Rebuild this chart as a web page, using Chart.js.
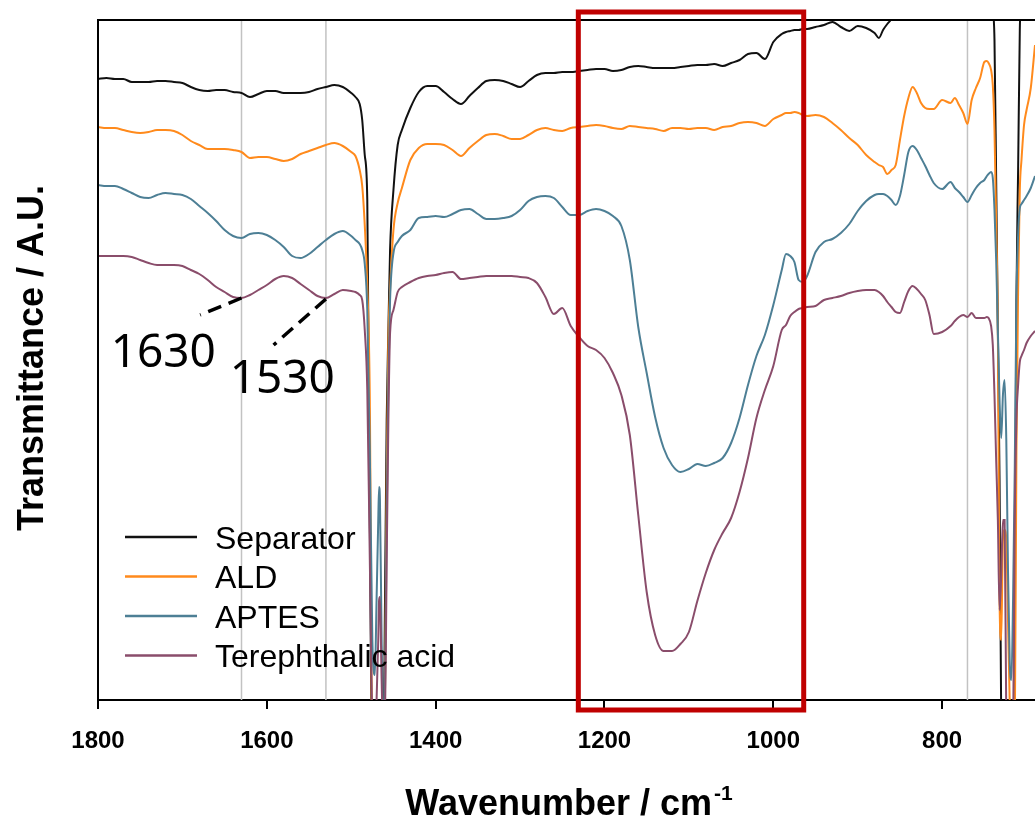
<!DOCTYPE html>
<html>
<head>
<meta charset="utf-8">
<script src="https://cdn.jsdelivr.net/npm/chart.js@4.4.1/dist/chart.umd.min.js"></script>
<style>
  html, body { margin: 0; padding: 0; background: #fff; }
  canvas { display: block; }
</style>
</head>
<body>
<canvas id="ftirChart" width="1035" height="826"></canvas>
<script>
// wavenumbers (cm-1), descending, denser around the sharp CH2 bands
const wavenumber = [
  1800, 1790, 1780, 1770, 1760, 1750, 1740, 1730, 1720, 1710,
  1700, 1690, 1680, 1670, 1660, 1650, 1640, 1630, 1620, 1610,
  1600, 1590, 1580, 1570, 1560, 1550, 1540, 1530, 1520, 1510, 1500,
  1495, 1490, 1487, 1484, 1481, 1478, 1475, 1472, 1470, 1468, 1467, 1466, 1464, 1462, 1460, 1458, 1456, 1454, 1450, 1445, 1440,
  1430, 1420, 1410, 1400, 1390, 1380, 1370, 1360, 1350, 1340, 1330, 1320, 1310, 1300, 1290, 1280, 1270, 1260, 1250,
  1240, 1230, 1220, 1210, 1200, 1190, 1180, 1170, 1160, 1150, 1140, 1130, 1120, 1110, 1100, 1090, 1080, 1070, 1060,
  1050, 1040, 1030, 1020, 1010,
  1000, 990, 985, 980, 975, 970, 965, 960, 950, 940, 930, 920, 910, 900, 890, 880, 875, 870, 865, 860, 855,
  850, 845, 840, 835, 830, 825, 820, 815, 810, 800, 790, 785, 780, 775, 770, 765, 760, 755,
  750, 747, 745, 742, 740, 738, 736, 734, 732, 730, 728, 726, 724, 722, 720, 718, 716, 714, 712, 710, 708, 706, 703, 700, 695, 690
];

// transmittance, arbitrary units (curves are offset, values outside 0..680 run off the plot)
const separator = [
  621, 622, 621, 621, 618, 618, 618, 619, 619, 618, 617, 613, 610, 609, 610, 610, 608, 607, 603, 606,
  609, 609, 607, 607, 607, 608, 611, 613, 615, 613, 607,
  603, 596, 580, 545, 500, 180, -60, -60, -60, -60, -60, -60, -60, -60, 100, 280, 370, 450, 510, 555, 570,
  592, 608, 614, 614, 608, 601, 596, 604, 612, 619, 620, 619, 616, 613, 619, 625, 627, 627, 628,
  628, 629, 630, 631, 631, 629, 630, 633, 634, 633, 632, 632, 632, 633, 634, 635, 635, 636, 634,
  637, 640, 646, 647, 641,
  658, 666, 668, 669, 670, 670, 671, 671, 673, 675, 678, 673, 669, 674, 672, 667, 662, 670, 676, 681, 690,
  710, 710, 710, 710, 710, 710, 710, 710, 710, 710, 710, 710, 710, 710, 710, 710, 710, 710,
  710, 710, 710, 705, 690, 660, 520, 370, 220, -20, -60, -60, -60, -60, -60, -60, -60, 100, 400, 530, 670, 705, 710, 710, 710, 710
];
const ald = [
  573, 572, 572, 570, 568, 567, 568, 570, 570, 569, 565, 559, 555, 551, 551, 551, 550, 548, 542, 543,
  543, 541, 539, 541, 546, 549, 552, 555, 557, 554, 548,
  544, 530, 514, 475, 415, 300, -60, -60, -60, -60, -60, -60, -60, -60, 10, 220, 360, 410, 470, 497, 512,
  540, 552, 556, 556, 555, 550, 544, 552, 559, 565, 566, 564, 561, 561, 565, 570, 572, 570, 569,
  572, 573, 574, 575, 574, 572, 571, 574, 573, 572, 571, 569, 572, 572, 571, 572, 572, 570, 573,
  574, 577, 578, 577, 574,
  581, 585, 587, 587, 588, 587, 585, 584, 585, 583, 577, 570, 562, 555, 545, 538, 535, 533, 526, 530, 535,
  560, 584, 602, 613, 607, 597, 592, 591, 591, 600, 597, 602, 595, 587, 576, 600, 612, 622,
  638, 639, 637, 630, 615, 570, 480, 370, 100, 60, 160, 170, 160, 80, 0, -60, -60, -40, 250, 410, 510, 540, 575, 590, 612, 655
];
const aptes = [
  515, 514, 514, 511, 507, 503, 502, 505, 507, 506, 505, 501, 494, 487, 479, 470, 464, 462, 466, 467,
  465, 460, 453, 444, 442, 446, 453, 460, 466, 469, 464,
  460, 456, 450, 436, 390, 250, 60, 25, 100, 180, 213, 200, 60, -20, 10, 180, 320, 400, 447, 458, 464,
  470, 482, 483, 484, 483, 486, 490, 491, 486, 481, 481, 482, 484, 490, 499, 503, 504, 502, 493,
  485, 485, 489, 491, 489, 484, 474, 440, 373, 327, 283, 252, 235, 228, 231, 236, 234, 237, 242,
  257, 282, 315, 344, 365,
  395, 430, 446, 444, 438, 420, 418, 424, 448, 458, 461, 467, 476, 489, 499, 505, 506, 506, 504, 500, 495,
  504, 525, 548, 554, 550, 542, 534, 525, 517, 511, 518, 512, 508, 503, 498, 505, 512, 517,
  520, 524, 526, 528, 522, 490, 440, 370, 300, 262, 305, 320, 260, 130, 40, 20, 100, 230, 400, 465, 492, 496, 500, 504, 512, 524
];
const terephthalic = [
  444, 444, 444, 444, 443, 440, 437, 435, 435, 435, 434, 430, 426, 420, 413, 408, 403, 402, 405, 410,
  415, 421, 424, 422, 416, 410, 404, 402, 406, 410, 409,
  408, 405, 400, 370, 310, 140, -20, -40, 0, 60, 100, 103, 20, -40, -20, 140, 280, 367, 390, 408, 413,
  418, 422, 424, 425, 427, 428, 421, 422, 423, 424, 424, 424, 424, 423, 422, 417, 403, 386, 392,
  374, 363, 354, 350, 342, 327, 305, 265, 185, 108, 65, 49, 49, 56, 68, 99, 127, 150, 167,
  182, 208, 242, 282, 310,
  334, 370, 375, 384, 388, 391, 392, 393, 394, 400, 402, 404, 407, 409, 410, 410, 408, 404, 398, 393, 388,
  387, 398, 409, 414, 411, 406, 400, 385, 366, 368, 374, 379, 383, 385, 383, 387, 382, 382,
  382, 383, 382, 374, 355, 305, 240, 180, 90, 125, 180, 180, -20, -60, -60, -60, -40, 180, 280, 315, 338, 344, 350, 357, 364, 369
];

const seriesNames = ['Separator', 'ALD', 'APTES', 'Terephthalic acid'];
const xTicks = [1800, 1600, 1400, 1200, 1000, 800];
const markerLines = [1630, 1530, 770];
const highlightRange = [1231, 964];
// peak labels: dashed leader from the band to the text, in data coordinates
const peakLabels = [
  { text: '1630', from: [1630, 402], to: [1679, 385], at: [1785, 333] },
  { text: '1530', from: [1530, 401], to: [1592, 355], at: [1644, 307] }
];

const colors = ['#111111', '#ff8a1c', '#4d7f95', '#8a4d6b'];
const toPoints = (ys) => wavenumber.map((w, i) => ({ x: w, y: ys[i] }));

const decorations = {
  id: 'decorations',
  beforeDatasetsDraw(chart) {
    const { ctx, chartArea: a, scales: { x } } = chart;
    ctx.save();
    ctx.strokeStyle = '#c2c2c2';
    ctx.lineWidth = 1.5;
    markerLines.forEach(w => {
      const px = x.getPixelForValue(w);
      ctx.beginPath();
      ctx.moveTo(px, a.top);
      ctx.lineTo(px, a.bottom);
      ctx.stroke();
    });
    ctx.restore();
  },
  afterDatasetsDraw(chart) {
    const { ctx, chartArea: a } = chart;
    ctx.save();
    ctx.strokeStyle = '#000';
    ctx.lineWidth = 2;
    ctx.beginPath();
    ctx.moveTo(a.right + 2, a.top);
    ctx.lineTo(a.left, a.top);
    ctx.lineTo(a.left, a.bottom);
    ctx.stroke();
    ctx.restore();
  },
  afterDraw(chart) {
    const { ctx, chartArea: a, scales: { x, y } } = chart;
    ctx.save();

    // red box
    const x0 = x.getPixelForValue(highlightRange[0]);
    const x1 = x.getPixelForValue(highlightRange[1]);
    ctx.strokeStyle = '#c00000';
    ctx.lineWidth = 5;
    ctx.strokeRect(x0, a.top - 8, x1 - x0, a.bottom - a.top + 18);

    // peak labels
    ctx.strokeStyle = '#000';
    ctx.lineWidth = 3.5;
    ctx.setLineDash([14, 8]);
    ctx.fillStyle = '#000';
    ctx.font = '46px "Noto Sans", sans-serif';
    ctx.textBaseline = 'alphabetic';
    ctx.textAlign = 'left';
    peakLabels.forEach(p => {
      ctx.beginPath();
      ctx.moveTo(x.getPixelForValue(p.from[0]), y.getPixelForValue(p.from[1]));
      ctx.lineTo(x.getPixelForValue(p.to[0]), y.getPixelForValue(p.to[1]));
      ctx.stroke();
      ctx.fillText(p.text, x.getPixelForValue(p.at[0]), y.getPixelForValue(p.at[1]));
    });
    ctx.setLineDash([]);

    // legend
    ctx.font = '32px "Liberation Sans", Arial, sans-serif';
    ctx.lineWidth = 2.5;
    seriesNames.forEach((name, i) => {
      const ly = a.bottom - 163 + i * 39.5;
      ctx.strokeStyle = colors[i];
      ctx.beginPath();
      ctx.moveTo(a.left + 27, ly);
      ctx.lineTo(a.left + 99, ly);
      ctx.stroke();
      ctx.fillText(name, a.left + 117, ly + 11.5);
    });

    // axis titles
    ctx.font = 'bold 36px "Liberation Sans", Arial, sans-serif';
    const main = 'Wavenumber / cm';
    const mw = ctx.measureText(main).width;
    ctx.font = 'bold 21px "Liberation Sans", Arial, sans-serif';
    const sw = ctx.measureText('-1').width;
    const startX = 569 - (mw + sw + 2) / 2;
    ctx.font = 'bold 36px "Liberation Sans", Arial, sans-serif';
    ctx.fillText(main, startX, 815);
    ctx.font = 'bold 21px "Liberation Sans", Arial, sans-serif';
    ctx.fillText('-1', startX + mw + 2, 800);

    ctx.translate(43, 358);
    ctx.rotate(-Math.PI / 2);
    ctx.textAlign = 'center';
    ctx.font = 'bold 36px "Liberation Sans", Arial, sans-serif';
    ctx.fillText('Transmittance / A.U.', 0, 0);
    ctx.restore();
  }
};

const ctx = document.getElementById('ftirChart').getContext('2d');
const ftirChart = new Chart(ctx, {
  type: 'line',
  data: {
    datasets: [
      { label: seriesNames[0], data: toPoints(separator), borderColor: colors[0], order: 4 },
      { label: seriesNames[1], data: toPoints(ald), borderColor: colors[1], order: 3 },
      { label: seriesNames[2], data: toPoints(aptes), borderColor: colors[2], order: 2 },
      { label: seriesNames[3], data: toPoints(terephthalic), borderColor: colors[3], order: 1 }
    ]
  },
  options: {
    responsive: false,
    animation: false,
    layout: { padding: { left: 98, top: 20, right: 0, bottom: 0 } },
    elements: {
      point: { radius: 0 },
      line: { borderWidth: 2, cubicInterpolationMode: 'monotone', fill: false }
    },
    plugins: { legend: { display: false }, tooltip: { enabled: false } },
    scales: {
      x: {
        type: 'linear',
        reverse: true,
        min: 690,
        max: 1800,
        afterBuildTicks: (s) => { s.ticks = xTicks.map(v => ({ value: v })); },
        afterFit: (s) => { s.height = 126; },
        grid: { drawOnChartArea: false, drawTicks: true, tickLength: 9, color: '#000', lineWidth: 2 },
        border: { display: true, color: '#000', width: 2 },
        ticks: {
          color: '#000',
          padding: 18,
          autoSkip: false,
          maxRotation: 0,
          callback: (v) => String(v),
          font: { family: '"Liberation Sans", Arial, sans-serif', size: 24, weight: 'bold' }
        }
      },
      y: { display: false, min: 0, max: 680 }
    }
  },
  plugins: [decorations]
});
</script>
</body>
</html>
